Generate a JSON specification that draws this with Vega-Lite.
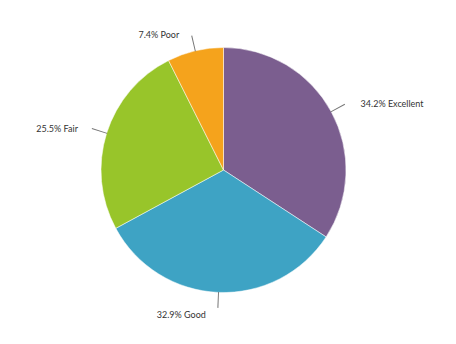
{
  "$schema": "https://vega.github.io/schema/vega-lite/v6.json",
  "width": 447,
  "height": 340,
  "padding": 0,
  "autosize": "none",
  "background": "white",
  "config": {"view": {"stroke": null}, "font": "Lato"},
  "data": {
    "values": [
      {"category": "Excellent", "value": 34.2},
      {"category": "Good", "value": 32.9},
      {"category": "Fair", "value": 25.5},
      {"category": "Poor", "value": 7.4}
    ]
  },
  "transform": [
    {"calculate": "indexof(['Excellent','Good','Fair','Poor'], datum.category)", "as": "ord"},
    {"stack": "value", "groupby": [], "sort": [{"field": "ord", "order": "ascending"}], "as": ["s0", "s1"]},
    {"calculate": "(datum.s0 + datum.s1) / 2", "as": "mid"},
    {"calculate": "datum.mid - 0.06", "as": "lead0"},
    {"calculate": "datum.mid + 0.06", "as": "lead1"},
    {"calculate": "format(datum.value, '.1f') + '% ' + datum.category", "as": "label"}
  ],
  "layer": [
    {
      "mark": {"type": "arc", "radius": 122.5, "stroke": "white", "strokeWidth": 0.5},
      "encoding": {
        "theta": {"field": "s0", "type": "quantitative", "stack": null, "scale": {"domain": [0, 100]}},
        "theta2": {"field": "s1"},
        "color": {
          "field": "category",
          "type": "nominal",
          "scale": {"domain": ["Excellent", "Good", "Fair", "Poor"], "range": ["#7b5e8f", "#3ea3c4", "#98c52a", "#f5a31c"]},
          "legend": null
        }
      }
    },
    {
      "mark": {"type": "arc", "radius": 122, "radius2": 138, "color": "#777777"},
      "encoding": {
        "theta": {"field": "lead0", "type": "quantitative", "stack": null, "scale": {"domain": [0, 100]}},
        "theta2": {"field": "lead1"}
      }
    },
    {
      "mark": {"type": "text", "radius": 140, "align": "left", "baseline": "middle", "dx": 14, "dy": 1, "fontSize": 9, "color": "#333333"},
      "encoding": {
        "theta": {"field": "mid", "type": "quantitative", "stack": null, "scale": {"domain": [0, 100]}},
        "text": {"condition": {"test": "datum.category === 'Excellent'", "field": "label", "type": "nominal"}, "value": ""}
      }
    },
    {
      "mark": {"type": "text", "radius": 140, "align": "right", "baseline": "middle", "dx": -12, "dy": 5, "fontSize": 9, "color": "#333333"},
      "encoding": {
        "theta": {"field": "mid", "type": "quantitative", "stack": null, "scale": {"domain": [0, 100]}},
        "text": {"condition": {"test": "datum.category === 'Good'", "field": "label", "type": "nominal"}, "value": ""}
      }
    },
    {
      "mark": {"type": "text", "radius": 140, "align": "right", "baseline": "middle", "dx": -12, "dy": 1, "fontSize": 9, "color": "#333333"},
      "encoding": {
        "theta": {"field": "mid", "type": "quantitative", "stack": null, "scale": {"domain": [0, 100]}},
        "text": {"condition": {"test": "datum.category === 'Fair' || datum.category === 'Poor'", "field": "label", "type": "nominal"}, "value": ""}
      }
    }
  ]
}
